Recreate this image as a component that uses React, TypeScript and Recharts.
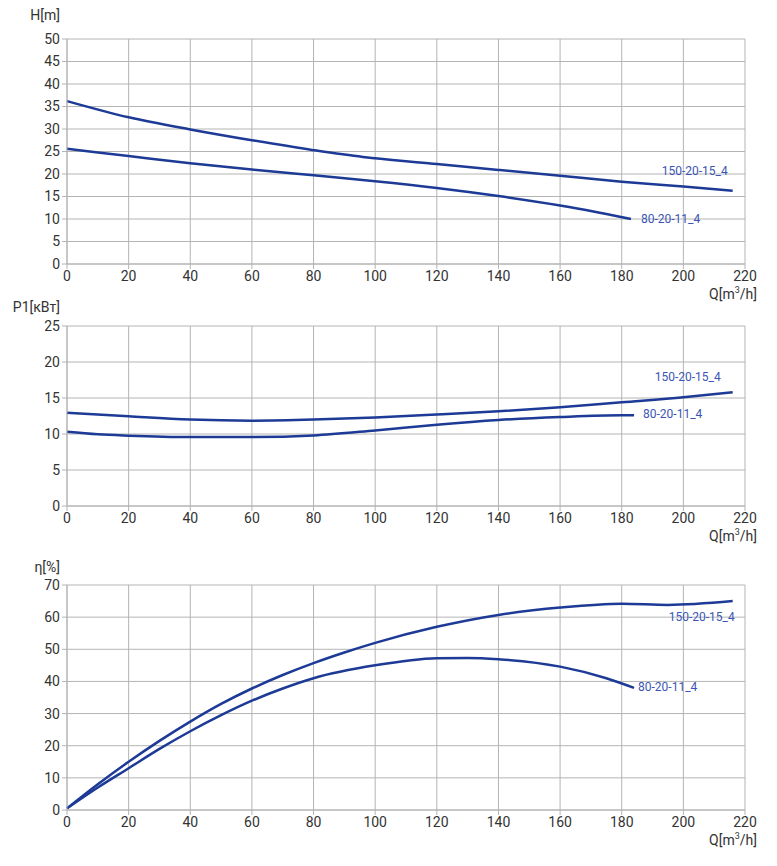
import { CartesianGrid, Line, LineChart, XAxis, YAxis } from "recharts";

const qTicks = [0, 20, 40, 60, 80, 100, 120, 140, 160, 180, 200, 220];

// H[m]
const headQ150 = [0, 20, 40, 60, 80, 96, 100, 120, 140, 160, 180, 200, 216];
const head150 = [36.2, 32.6, 29.9, 27.5, 25.3, 23.8, 23.5, 22.2, 20.9, 19.6, 18.3, 17.2, 16.3];
const headQ80 = [0, 20, 40, 60, 80, 100, 120, 140, 160, 170, 183];
const head80 = [25.6, 24.0, 22.4, 21.0, 19.7, 18.4, 16.9, 15.1, 13.0, 11.8, 10.0];

// P1[кВт]
const powerQ150 = [0, 20, 40, 60, 80, 100, 120, 140, 160, 180, 200, 216];
const power150 = [12.95, 12.45, 12.0, 11.85, 12.0, 12.3, 12.7, 13.15, 13.7, 14.4, 15.1, 15.8];
const powerQ80 = [0, 10, 20, 40, 60, 80, 100, 120, 140, 160, 180, 184];
const power80 = [10.3, 9.95, 9.77, 9.58, 9.58, 9.8, 10.5, 11.3, 11.95, 12.36, 12.6, 12.6];

// η[%]
const effQ150 = [0, 10, 20, 30, 40, 50, 60, 70, 80, 90, 100, 120, 140, 160, 180, 195, 216];
const eff150 = [0.5, 8, 15, 21.5, 27.5, 33, 37.8, 42, 45.7, 49, 52, 57, 60.7, 63, 64.2, 63.8, 65];
const effQ80 = [0, 10, 20, 30, 40, 50, 60, 70, 80, 100, 120, 130, 140, 160, 175, 184];
const eff80 = [0.5, 7, 13, 19, 24.5, 29.5, 34, 37.8, 41, 45, 47.2, 47.3, 46.9, 44.6, 41, 38];

const name150 = "150-20-15_4";
const name80 = "80-20-11_4";

const LINE = "#1c3a96";
const LABEL = "#3a55b5";
const GRID = "#b4b4b4";
const FONT = "Roboto, sans-serif";

const toPoints = (qs: number[], vs: number[]) => qs.map((q, i) => ({ q, v: vs[i] }));

type Offset = { dx: number; dy: number; anchor: "start" | "end" };

function endLabel(text: string, count: number, off: Offset) {
  return (props: any) => {
    if (props.index !== count - 1) return null;
    return (
      <text
        key={text}
        x={props.x + off.dx}
        y={props.y + off.dy}
        textAnchor={off.anchor}
        dominantBaseline="central"
        fill={LABEL}
        fontSize={12}
        fontFamily={FONT}
      >
        {text}
      </text>
    );
  };
}

type PanelProps = {
  top: number;
  height: number;
  marginTop: number;
  marginBottom: number;
  yMax: number;
  yTicks: number[];
  title: React.ReactNode;
  titleTop: number;
  a: { q: number; v: number }[];
  b: { q: number; v: number }[];
  offA: Offset;
  offB: Offset;
};

function Panel(p: PanelProps) {
  const plotBottom = p.height - p.marginBottom - 30;
  return (
    <div style={{ position: "absolute", left: 0, top: p.top, width: 777, height: p.height }}>
      <div
        style={{
          position: "absolute",
          right: 777 - 60,
          top: p.titleTop,
          fontFamily: FONT,
          fontSize: 14,
          color: "#333",
          whiteSpace: "nowrap",
          lineHeight: "16px",
        }}
      >
        {p.title}
      </div>
      <LineChart
        width={777}
        height={p.height}
        margin={{ top: p.marginTop, right: 32, bottom: p.marginBottom, left: 0 }}
      >
        <CartesianGrid stroke={GRID} strokeWidth={1} />
        <XAxis
          type="number"
          dataKey="q"
          domain={[0, 220]}
          ticks={qTicks}
          interval={0}
          allowDuplicatedCategory={false}
          stroke={GRID}
          tickSize={5}
          tick={{ fill: "#333", fontSize: 14, fontFamily: FONT }}
          height={30}
        />
        <YAxis
          type="number"
          domain={[0, p.yMax]}
          ticks={p.yTicks}
          interval={0}
          width={67}
          stroke={GRID}
          tickSize={5}
          tick={{ fill: "#333", fontSize: 14, fontFamily: FONT }}
        />
        <Line
          data={p.a}
          dataKey="v"
          type="monotone"
          stroke={LINE}
          strokeWidth={2.5}
          dot={false}
          activeDot={false}
          isAnimationActive={false}
          label={endLabel(name150, p.a.length, p.offA)}
        />
        <Line
          data={p.b}
          dataKey="v"
          type="monotone"
          stroke={LINE}
          strokeWidth={2.5}
          dot={false}
          activeDot={false}
          isAnimationActive={false}
          label={endLabel(name80, p.b.length, p.offB)}
        />
      </LineChart>
      <div
        style={{
          position: "absolute",
          right: 777 - 757,
          top: plotBottom + 22,
          fontFamily: FONT,
          fontSize: 14,
          color: "#333",
          whiteSpace: "nowrap",
          lineHeight: "16px",
        }}
      >
        Q[m<sup style={{ fontSize: 9, verticalAlign: "6px", lineHeight: 0 }}>3</sup>/h]
      </div>
    </div>
  );
}

export default function App() {
  return (
    <div style={{ position: "absolute", left: 0, top: 0, width: 777, height: 866, background: "#fff" }}>
      <Panel
        top={0}
        height={300}
        marginTop={39}
        marginBottom={6}
        yMax={50}
        yTicks={[0, 5, 10, 15, 20, 25, 30, 35, 40, 45, 50]}
        title="H[m]"
        titleTop={7}
        a={toPoints(headQ150, head150)}
        b={toPoints(headQ80, head80)}
        offA={{ dx: -5, dy: -20, anchor: "end" }}
        offB={{ dx: 10, dy: 0, anchor: "start" }}
      />
      <Panel
        top={300}
        height={250}
        marginTop={26}
        marginBottom={14}
        yMax={25}
        yTicks={[0, 5, 10, 15, 20, 25]}
        title="P1[кВт]"
        titleTop={-1}
        a={toPoints(powerQ150, power150)}
        b={toPoints(powerQ80, power80)}
        offA={{ dx: -12, dy: -15, anchor: "end" }}
        offB={{ dx: 9, dy: -1, anchor: "start" }}
      />
      <Panel
        top={550}
        height={316}
        marginTop={35}
        marginBottom={26}
        yMax={70}
        yTicks={[0, 10, 20, 30, 40, 50, 60, 70]}
        title="η[%]"
        titleTop={9}
        a={toPoints(effQ150, eff150)}
        b={toPoints(effQ80, eff80)}
        offA={{ dx: 2, dy: 16, anchor: "end" }}
        offB={{ dx: 4, dy: -1, anchor: "start" }}
      />
    </div>
  );
}
